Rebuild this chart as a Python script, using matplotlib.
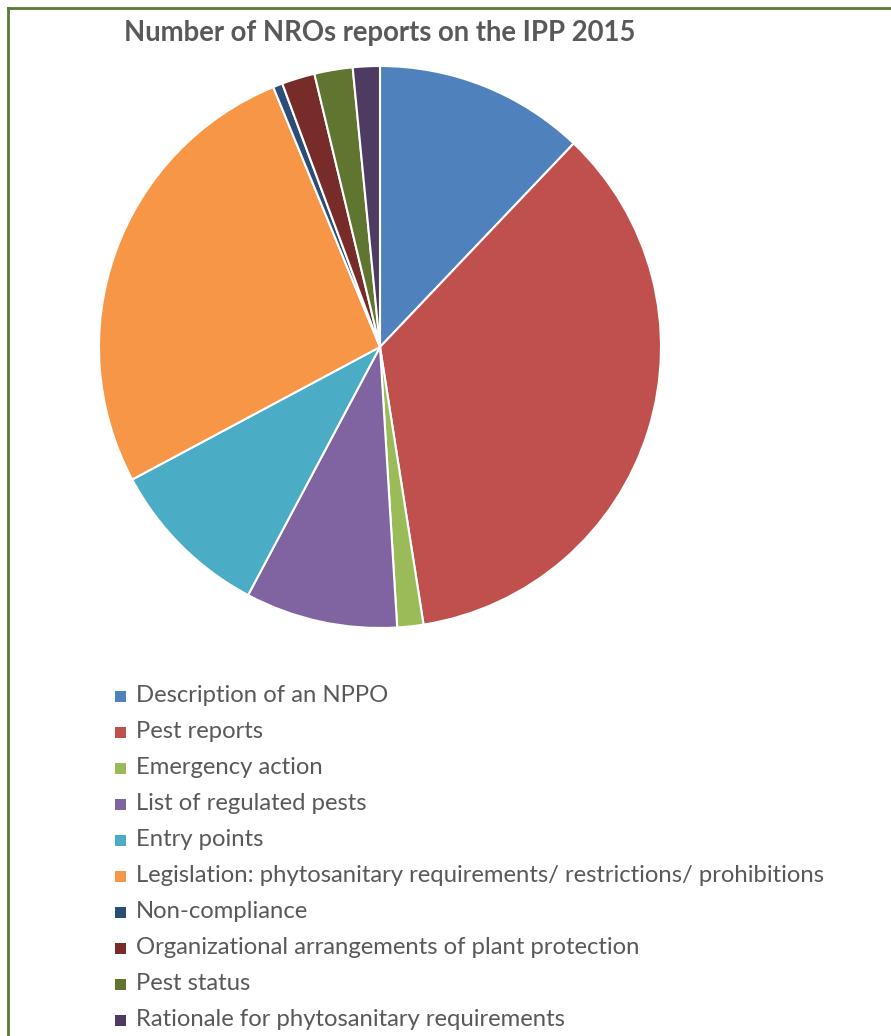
import matplotlib
matplotlib.use("Agg")
import matplotlib.pyplot as plt
from matplotlib.patches import Rectangle
from matplotlib.lines import Line2D

# share of reports per category (in %)
categories = [
    "Description of an NPPO",
    "Pest reports",
    "Emergency action",
    "List of regulated pests",
    "Entry points",
    "Legislation: phytosanitary requirements/ restrictions/ prohibitions",
    "Non-compliance",
    "Organizational arrangements of plant protection",
    "Pest status",
    "Rationale for phytosanitary requirements",
]
shares = [12.1, 35.4, 1.5, 8.75, 9.4, 26.6, 0.55, 1.9, 2.2, 1.55]
colors = ["#4F81BD", "#C0504D", "#9BBB59", "#8064A2", "#4BACC6",
          "#F79646", "#2C4D75", "#772C2A", "#5F7530", "#4D3B62"]

W, H = 891, 1036
fig = plt.figure(figsize=(W / 100, H / 100), dpi=100)

# pie area: centre (380, 347) px, radius 281 px
ax = fig.add_axes([99 / W, 1 - 628 / H, 562 / W, 562 / H])
ax.pie(shares, colors=colors, startangle=90, counterclock=False,
       wedgeprops=dict(edgecolor="white", linewidth=1.5))
ax.set_xlim(-1, 1)
ax.set_ylim(-1, 1)
ax.set_aspect("equal")
ax.axis("off")

fig.text(380 / W, 1 - 33 / H, "Number of NROs reports on the IPP 2015",
         ha="center", va="center", fontsize=19.8, fontweight="bold",
         color="#595959", family="Lato")

# legend, one row per category
y0, step = 696, 36
for i, (lab, col) in enumerate(zip(categories, colors)):
    y = y0 + i * step
    fig.add_artist(Rectangle((115 / W, 1 - (y + 5.5) / H), 11 / W, 11 / H,
                             transform=fig.transFigure, facecolor=col,
                             edgecolor="none"))
    fig.text(136 / W, 1 - y / H, lab, ha="left", va="center",
             fontsize=17.2, color="#595959", family="Lato")

# chart frame (only top and left edges are visible in the crop)
frame = "#5B7A32"
fig.add_artist(Line2D([8 / W, 1], [1 - 8 / H, 1 - 8 / H], color=frame,
                      linewidth=2, transform=fig.transFigure))
fig.add_artist(Line2D([8 / W, 8 / W], [0, 1 - 8 / H], color=frame,
                      linewidth=2, transform=fig.transFigure))

fig.savefig("out.png", dpi=100, facecolor="white")
